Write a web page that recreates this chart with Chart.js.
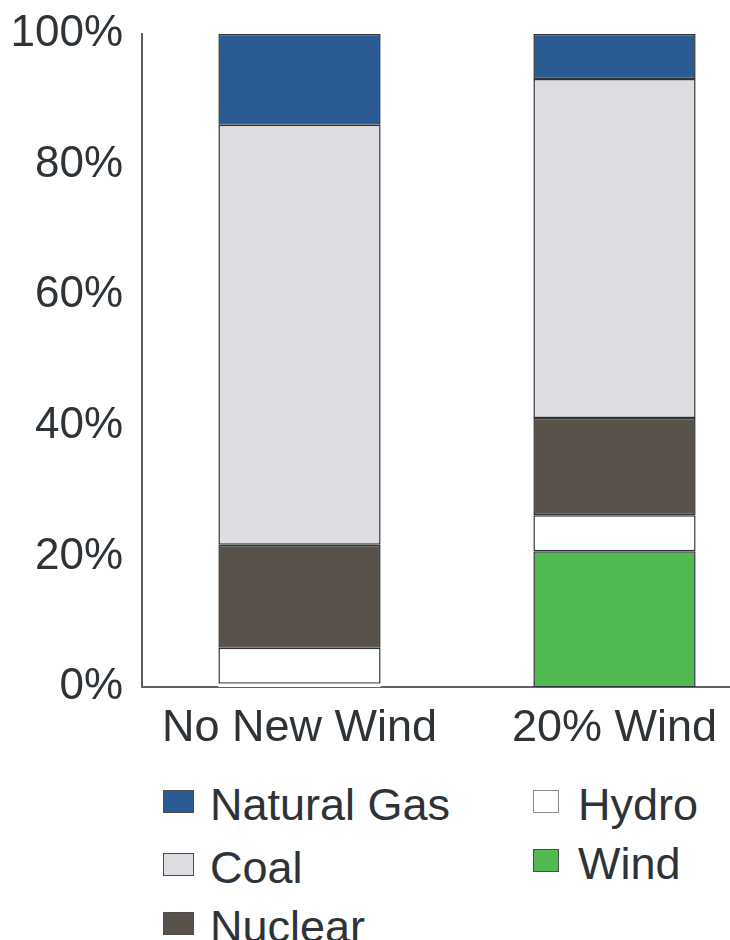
<!DOCTYPE html>
<html>
<head>
<meta charset="utf-8">
<script src="https://cdn.jsdelivr.net/npm/chart.js@4.4.0/dist/chart.umd.min.js"></script>
<style>
  body { margin: 0; width: 730px; height: 940px; overflow: hidden; background: #fff; position: relative; font-family: "Liberation Sans", Arial, sans-serif; }
  #wrap { position: absolute; left: 0; top: 0; width: 772px; height: 760px; }
  .leg { position: absolute; font-size: 45px; line-height: 45px; color: #2e3337; white-space: nowrap; }
  .leg span.sw { position: absolute; height: 23px; box-sizing: border-box; border: 1.5px solid #4a4d50; }
</style>
</head>
<body>
<div id="wrap"><canvas id="grafico" width="772" height="760"></canvas></div>
<div id="legenda"></div>
<script>
// cenarios e participacao (%) de cada fonte, de baixo pra cima
const categorias = ["No New Wind", "20% Wind"];
const wind = [0.5, 20.8];
const hydro = [5.5, 5.5];
const nuclear = [15.8, 14.9];
const coal = [64.3, 51.9];
const naturalGas = [13.9, 6.9];
const yTicks = [0, 20, 40, 60, 80, 100];

const corTexto = "#2e3337";
const borda = "#2f3336";

const series = [
  { label: "Wind", data: wind, cor: "#50b950" },
  { label: "Hydro", data: hydro, cor: "#ffffff" },
  { label: "Nuclear", data: nuclear, cor: "#58524b" },
  { label: "Coal", data: coal, cor: "#dcdde1" },
  { label: "Natural Gas", data: naturalGas, cor: "#2a5b94" },
];

const datasets = series.map(function (s) {
  return {
    label: s.label,
    data: s.data,
    backgroundColor: s.label == "Wind" ? ["#ffffff", s.cor] : s.cor,
    borderColor: borda,
    borderWidth: s.label == "Wind" ? [0, 1.5] : 1.5,
    borderSkipped: false,
    categoryPercentage: 1,
    barPercentage: 0.515,
  };
});

new Chart(document.getElementById("grafico"), {
  type: "bar",
  data: { labels: categorias, datasets: datasets },
  options: {
    responsive: false,
    animation: false,
    layout: { padding: { top: 34, left: 0, right: 0, bottom: 0 } },
    plugins: { legend: { display: false }, tooltip: { enabled: false } },
    scales: {
      x: {
        stacked: true,
        grid: { display: false, drawTicks: false },
        border: { display: true, color: "#5f6367", width: 2 },
        ticks: {
          color: corTexto,
          padding: 15,
          font: { size: 45, family: "'Liberation Sans', Arial, sans-serif" },
        },
        afterFit: function (scale) { scale.height = 73; },
      },
      y: {
        stacked: true,
        min: 0,
        max: 100,
        afterBuildTicks: function (scale) {
          scale.ticks = yTicks.map(function (v) { return { value: v }; });
        },
        grid: { display: false, drawTicks: false },
        border: { display: true, color: "#5a5e62", width: 2 },
        ticks: {
          color: corTexto,
          padding: 19,
          font: { size: 44, family: "'Liberation Sans', Arial, sans-serif" },
          callback: function (v) { return v + "%"; },
        },
        afterFit: function (scale) {
          scale.width = 142;
          scale.paddingTop = 0;
          scale.paddingBottom = 0;
        },
      },
    },
  },
});

// legenda em duas colunas
const legendaItens = [
  { label: "Natural Gas", x: 163, top: 790, w: 31 },
  { label: "Coal", x: 163, top: 853, w: 31 },
  { label: "Nuclear", x: 163, top: 912, w: 31 },
  { label: "Hydro", x: 533, top: 790, w: 26 },
  { label: "Wind", x: 533, top: 849, w: 26 },
];
const leg = document.getElementById("legenda");
legendaItens.forEach(function (item) {
  const s = series.find(function (d) { return d.label == item.label; });
  const div = document.createElement("div");
  div.className = "leg";
  div.style.left = item.x + "px";
  div.style.top = (item.top - 8) + "px";
  const sw = document.createElement("span");
  sw.className = "sw";
  sw.style.left = "0px";
  sw.style.top = "8px";
  sw.style.width = item.w + "px";
  sw.style.background = s.cor;
  if (item.label == "Hydro") sw.style.borderColor = "#8a8d90";
  div.appendChild(sw);
  const txt = document.createElement("span");
  txt.textContent = item.label;
  txt.style.marginLeft = (item.label == "Hydro" || item.label == "Wind" ? 45 : 47) + "px";
  div.appendChild(txt);
  leg.appendChild(div);
});
</script>
</body>
</html>
